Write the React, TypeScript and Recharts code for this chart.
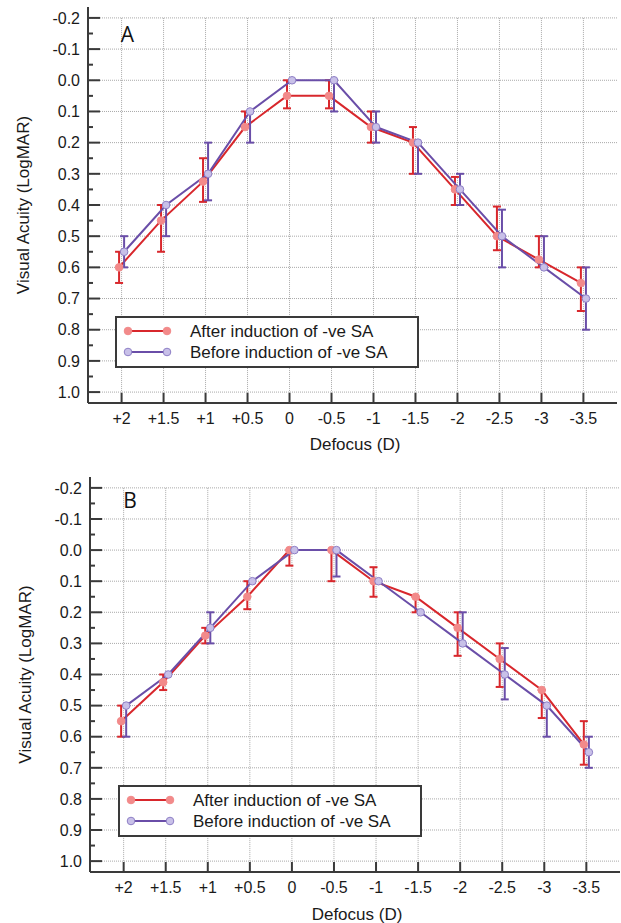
import { LineChart, Line, XAxis, YAxis, ErrorBar, ReferenceLine, Legend } from "recharts";

// x categories (defocus in dioptres) and axis ticks
const defocusLabels = ["+2", "+1.5", "+1", "+0.5", "0", "-0.5", "-1", "-1.5", "-2", "-2.5", "-3", "-3.5"];
const seriesNames = ["After induction of -ve SA", "Before induction of -ve SA"];
const yMajorTicks = [-0.2, -0.1, 0.0, 0.1, 0.2, 0.3, 0.4, 0.5, 0.6, 0.7, 0.8, 0.9, 1.0];
const yMinorTicks = [-0.15, -0.05, 0.05, 0.15, 0.25, 0.35, 0.45, 0.55, 0.65, 0.75, 0.85, 0.95];

// Panel A - mean logMAR and error bar ends
const afterA = [0.6, 0.45, 0.325, 0.15, 0.05, 0.05, 0.15, 0.2, 0.35, 0.5, 0.575, 0.65];
const afterALow = [0.55, 0.4, 0.25, 0.1, 0.0, 0.0, 0.1, 0.15, 0.31, 0.405, 0.5, 0.6];
const afterAHigh = [0.65, 0.55, 0.39, 0.15, 0.09, 0.09, 0.2, 0.3, 0.4, 0.545, 0.6, 0.74];
const beforeA = [0.55, 0.4, 0.3, 0.1, 0.0, 0.0, 0.15, 0.2, 0.35, 0.5, 0.6, 0.7];
const beforeALow = [0.5, 0.4, 0.2, 0.1, 0.0, 0.0, 0.1, 0.2, 0.3, 0.415, 0.5, 0.6];
const beforeAHigh = [0.6, 0.5, 0.385, 0.2, 0.0, 0.1, 0.2, 0.3, 0.4, 0.6, 0.6, 0.8];

// Panel B
const afterB = [0.55, 0.425, 0.275, 0.15, 0.0, 0.0, 0.1, 0.15, 0.25, 0.35, 0.45, 0.625];
const afterBLow = [0.5, 0.4, 0.25, 0.1, 0.0, 0.0, 0.055, 0.15, 0.2, 0.3, 0.45, 0.55];
const afterBHigh = [0.6, 0.45, 0.3, 0.19, 0.05, 0.1, 0.15, 0.2, 0.34, 0.44, 0.54, 0.69];
const beforeB = [0.5, 0.4, 0.25, 0.1, 0.0, 0.0, 0.1, 0.2, 0.3, 0.4, 0.5, 0.65];
const beforeBLow = [0.5, 0.4, 0.2, 0.1, 0.0, 0.0, 0.1, 0.2, 0.2, 0.315, 0.5, 0.6];
const beforeBHigh = [0.6, 0.4, 0.3, 0.1, 0.0, 0.085, 0.1, 0.2, 0.3, 0.48, 0.6, 0.7];

const FONT = "'Liberation Sans', Arial, sans-serif";
const AXIS = "#3a3a3a";
const GRID = "#a9a9a9";
const TEXT = "#1a1a1a";
const RED = "#d8272c";
const RED_DOT = "#f28a8a";
const PURPLE = "#6a4ea8";
const PURPLE_DOT = "#c8c0e8";
const DODGE = 0.06; // the two series are nudged apart around each tick

const buildSeries = (values: number[], low: number[], high: number[], shift: number) =>
  values.map((v, i) => ({
    x: i + shift,
    y: v,
    err: low[i] === v && high[i] === v ? null : [v - low[i], high[i] - v],
  }));

const YTick = ({ x, y, payload }: any) => {
  const v = payload.value;
  const major = yMajorTicks.includes(v);
  return (
    <g>
      <line x1={x} x2={x + (major ? 12 : 5)} y1={y} y2={y} stroke={AXIS} strokeWidth={2} />
      {major && (
        <text x={x - 8} y={y} dy="0.36em" textAnchor="end" fontSize={16} fontFamily={FONT} fill={TEXT}>
          {v.toFixed(1)}
        </text>
      )}
    </g>
  );
};

const XTick = ({ x, y, payload }: any) => (
  <g>
    <line x1={x} x2={x} y1={y} y2={y - 10} stroke={AXIS} strokeWidth={2} />
    <text x={x} y={y + 21} textAnchor="middle" fontSize={16} fontFamily={FONT} fill={TEXT}>
      {defocusLabels[payload.value]}
    </text>
  </g>
);

const LegendBox = () => (
  <svg width={304} height={52} style={{ display: "block" }}>
    <rect x={1} y={1} width={302} height={50} fill="#fff" stroke={AXIS} strokeWidth={2} />
    {seriesNames.map((name, i) => {
      const cy = i === 0 ? 15 : 36;
      const line = i === 0 ? RED : PURPLE;
      const dot = i === 0 ? RED_DOT : PURPLE_DOT;
      const ring = i === 0 ? RED_DOT : "#8e7fc6";
      return (
        <g key={name}>
          <line x1={13} x2={52} y1={cy} y2={cy} stroke={line} strokeWidth={2} />
          <circle cx={13} cy={cy} r={3.8} fill={dot} stroke={ring} />
          <circle cx={52} cy={cy} r={3.8} fill={dot} stroke={ring} />
          <text x={75} y={cy + 6} fontSize={17} fontFamily={FONT} fill={TEXT}>
            {name}
          </text>
        </g>
      );
    })}
  </svg>
);

interface PanelProps {
  letter: string;
  height: number;
  margin: { top: number; right: number; left: number; bottom: number };
  after: ReturnType<typeof buildSeries>;
  before: ReturnType<typeof buildSeries>;
  letterPos: [number, number];
  yTitlePos: [number, number];
  xTitlePos: [number, number];
  legendPos: [number, number];
}

const Panel = ({ letter, height, margin, after, before, letterPos, yTitlePos, xTitlePos, legendPos }: PanelProps) => (
  <LineChart width={621} height={height} margin={margin}>
    <XAxis
      type="number"
      dataKey="x"
      domain={[-0.8, 11.8]}
      allowDataOverflow
      ticks={defocusLabels.map((_, i) => i)}
      interval={0}
      tickSize={0}
      tickMargin={0}
      tickLine={false}
      tick={<XTick />}
      axisLine={{ stroke: AXIS, strokeWidth: 2 }}
      height={45}
      label={{
        content: () => (
          <text x={xTitlePos[0]} y={xTitlePos[1]} textAnchor="middle" fontSize={17} fontFamily={FONT} fill={TEXT}>
            Defocus (D)
          </text>
        ),
      }}
    />
    <YAxis
      type="number"
      domain={[-0.235, 1.035]}
      allowDataOverflow
      reversed
      ticks={[...yMajorTicks, ...yMinorTicks]}
      interval={0}
      tickSize={0}
      tickMargin={0}
      tickLine={false}
      tick={<YTick />}
      axisLine={{ stroke: AXIS, strokeWidth: 2 }}
      width={80}
      label={{
        content: () => (
          <g>
            <text
              x={yTitlePos[0]}
              y={yTitlePos[1]}
              transform={`rotate(-90 ${yTitlePos[0]} ${yTitlePos[1]})`}
              textAnchor="middle"
              fontSize={17}
              fontFamily={FONT}
              fill={TEXT}
            >
              Visual Acuity (LogMAR)
            </text>
            <text x={letterPos[0]} y={letterPos[1]} textAnchor="middle" fontSize={21} fontFamily="'Open Sans', sans-serif" fill="#111">
              {letter}
            </text>
          </g>
        ),
      }}
    />
    {yMajorTicks.map((t) => (
      <ReferenceLine key={`h${t}`} y={t} stroke={GRID} strokeDasharray="1 1" />
    ))}
    {defocusLabels.map((_, i) => (
      <ReferenceLine
        key={`v${i}`}
        segment={[
          { x: i, y: -0.2 },
          { x: i, y: 1.035 },
        ]}
        stroke={GRID}
        strokeDasharray="1 1"
      />
    ))}
    <Line
      data={after}
      dataKey="y"
      name={seriesNames[0]}
      type="linear"
      stroke={RED}
      strokeWidth={2}
      dot={{ r: 3.8, fill: RED_DOT, stroke: RED_DOT, strokeWidth: 1 }}
      isAnimationActive={false}
    >
      <ErrorBar dataKey="err" direction="y" width={4} stroke={RED} strokeWidth={2} />
    </Line>
    <Line
      data={before}
      dataKey="y"
      name={seriesNames[1]}
      type="linear"
      stroke={PURPLE}
      strokeWidth={2}
      dot={{ r: 3.8, fill: PURPLE_DOT, stroke: "#8e7fc6", strokeWidth: 1 }}
      isAnimationActive={false}
    >
      <ErrorBar dataKey="err" direction="y" width={4} stroke={PURPLE} strokeWidth={2} />
    </Line>
    <Legend
      layout="horizontal"
      verticalAlign="middle"
      align="center"
      wrapperStyle={{ left: legendPos[0], top: legendPos[1], width: 304 }}
      content={() => <LegendBox />}
    />
  </LineChart>
);

export default function App() {
  const afterDataA = buildSeries(afterA, afterALow, afterAHigh, -DODGE);
  const beforeDataA = buildSeries(beforeA, beforeALow, beforeAHigh, DODGE);
  const afterDataB = buildSeries(afterB, afterBLow, afterBHigh, -DODGE);
  const beforeDataB = buildSeries(beforeB, beforeBLow, beforeBHigh, DODGE);

  return (
    <div style={{ position: "absolute", left: 0, top: 0, width: 621, height: 923, background: "#fff" }}>
      <div style={{ position: "absolute", left: 0, top: 0 }}>
        <Panel
          letter="A"
          height={460}
          margin={{ top: 7, right: 4, left: 8, bottom: 12 }}
          after={afterDataA}
          before={beforeDataA}
          letterPos={[127.5, 41.5]}
          yTitlePos={[28.5, 205]}
          xTitlePos={[355, 450]}
          legendPos={[115, 316]}
        />
      </div>
      <div style={{ position: "absolute", left: 0, top: 460 }}>
        <Panel
          letter="B"
          height={463}
          margin={{ top: 17, right: 1, left: 10, bottom: 6 }}
          after={afterDataB}
          before={beforeDataB}
          letterPos={[130, 47.5]}
          yTitlePos={[30.5, 214.5]}
          xTitlePos={[357, 459.5]}
          legendPos={[118, 325]}
        />
      </div>
    </div>
  );
}
